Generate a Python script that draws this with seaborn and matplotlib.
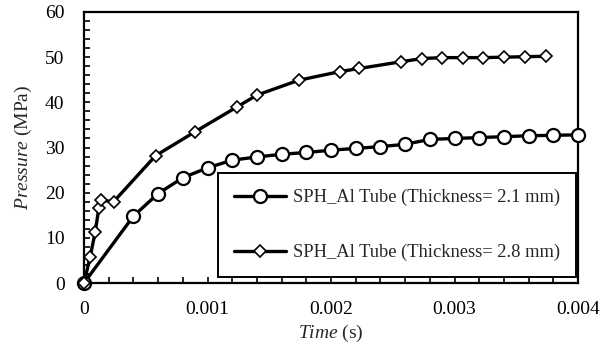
import matplotlib
matplotlib.use("Agg")
import matplotlib.pyplot as plt
from matplotlib.ticker import MultipleLocator, FuncFormatter
import seaborn as sns
import pandas as pd

# Data
time_21 = [0, 0.0004, 0.0006, 0.0008, 0.0010, 0.0012, 0.0014, 0.0016, 0.0018, 0.0020,
           0.0022, 0.0024, 0.0026, 0.0028, 0.0030, 0.0032, 0.0034, 0.0036, 0.0038, 0.0040]
pres_21 = [0, 14.8, 19.8, 23.3, 25.5, 27.2, 27.9, 28.5, 28.9, 29.4,
           29.8, 30.2, 30.7, 31.8, 32.0, 32.2, 32.4, 32.6, 32.7, 32.8]

time_28 = [0, 0.00005, 0.00009, 0.00012, 0.00014, 0.00024, 0.00058, 0.00090, 0.00124,
           0.00140, 0.00174, 0.00207, 0.00223, 0.00257, 0.00274, 0.00290, 0.00307,
           0.00323, 0.00340, 0.00357, 0.00374]
pres_28 = [0, 5.8, 11.2, 16.5, 18.3, 18.0, 28.2, 33.5, 39.0,
           41.6, 44.9, 46.8, 47.5, 49.0, 49.7, 49.9, 49.9,
           49.9, 50.0, 50.1, 50.2]

labels = ["SPH_Al Tube (Thickness= 2.1 mm)", "SPH_Al Tube (Thickness= 2.8 mm)"]
x_ticks = [0, 0.001, 0.002, 0.003, 0.004]
y_ticks = [0, 10, 20, 30, 40, 50, 60]

sns.set_style("ticks")
plt.rcParams["font.family"] = ["Liberation Serif", "DejaVu Serif"]
plt.rcParams["mathtext.fontset"] = "custom"
plt.rcParams["mathtext.rm"] = "Liberation Serif"
plt.rcParams["mathtext.it"] = "Liberation Serif:italic"

fig = plt.figure(figsize=(6.07, 3.47), dpi=100)
ax = fig.add_axes([84 / 607, 1 - 283 / 347, (578 - 84) / 607, (283 - 12) / 347])

df21 = pd.DataFrame({"t": time_21, "p": pres_21})
df28 = pd.DataFrame({"t": time_28, "p": pres_28})

sns.lineplot(data=df21, x="t", y="p", ax=ax, color="black", linewidth=2.4,
             marker="o", markersize=9.4, markerfacecolor="white",
             markeredgecolor="black", markeredgewidth=1.6, label=labels[0],
             clip_on=False, zorder=5)
sns.lineplot(data=df28, x="t", y="p", ax=ax, color="black", linewidth=2.4,
             marker="D", markersize=6.3, markerfacecolor="white",
             markeredgecolor="black", markeredgewidth=1.2, label=labels[1],
             clip_on=False, zorder=5)

ax.set_xlim(0, 0.004)
ax.set_ylim(0, 60)
ax.set_xticks(x_ticks)
ax.set_yticks(y_ticks)
ax.xaxis.set_minor_locator(MultipleLocator(0.0002))
ax.yaxis.set_minor_locator(MultipleLocator(2))
ax.xaxis.set_major_formatter(FuncFormatter(lambda v, p: "0" if abs(v) < 1e-12 else f"{v:g}"))
ax.tick_params(which="both", direction="in", length=4, width=1.2, labelsize=14,
               colors="black")
ax.tick_params(axis="x", which="major", pad=13)
ax.tick_params(axis="y", which="major", pad=14)
for s in ax.spines.values():
    s.set_linewidth(1.6)
    s.set_color("black")

ax.set_xlabel(r"$\mathit{Time}$ (s)", fontsize=14, labelpad=3.5)
ax.set_ylabel(r"$\mathit{Pressure}$ (MPa)", fontsize=14, labelpad=8)

leg = ax.legend(loc="lower right", bbox_to_anchor=(0.996, 0.022), fontsize=13.3,
                frameon=True, fancybox=False, borderpad=0.85, labelspacing=2.05,
                handlelength=2.8, handletextpad=0.4, borderaxespad=0)
leg.get_frame().set_edgecolor("black")
leg.get_frame().set_linewidth(1.4)
leg.get_frame().set_alpha(1)
leg.set_zorder(3)

fig.savefig("out.png", dpi=100)
